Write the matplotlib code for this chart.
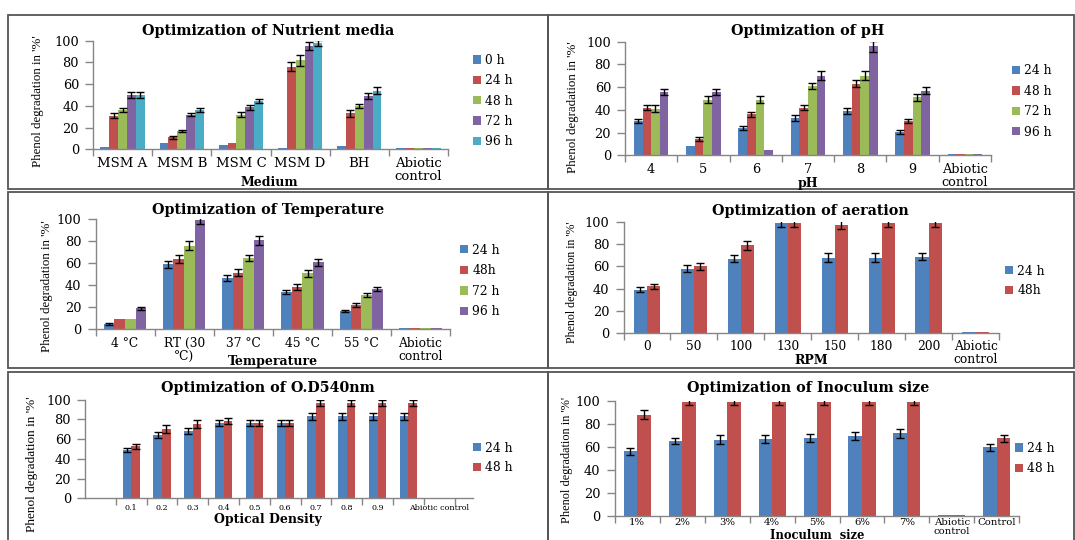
import matplotlib
matplotlib.use("Agg")
import matplotlib.pyplot as plt
from matplotlib.patches import Rectangle
import numpy as np

W, H = 1075, 540
fig = plt.figure(figsize=(W / 100, H / 100), dpi=100)

BLUE, RED, GREEN, PURPLE, CYAN = '#4F81BD', '#C0504D', '#9BBB59', '#8064A2', '#4BACC6'
SERIF = 'DejaVu Serif'
YFONT = 'Liberation Serif'

# ---------------- data ----------------
media_categories = ["MSM A", "MSM B", "MSM C", "MSM D", "BH", "Abiotic\ncontrol"]
media_labels = ["0 h", "24 h", "48 h", "72 h", "96 h"]
media_0h = [2.5, 6, 3.5, 1, 3, 0.8]
media_24h = [31, 11, 6, 76, 33, 0.8]
media_48h = [36, 16.5, 32, 82, 40, 0.8]
media_72h = [50, 32, 38.5, 95, 49, 0.8]
media_96h = [50, 36, 44.5, 98, 54, 0.8]
media_err_0h = [0, 0, 0, 0, 0, 0]
media_err_24h = [2.5, 1.5, 0, 4, 3, 0]
media_err_48h = [2, 1, 2, 5, 2, 0]
media_err_72h = [3, 1.5, 2, 4, 3, 0]
media_err_96h = [3, 2, 2, 3, 3, 0]

ph_categories = ["4", "5", "6", "7", "8", "9", "Abiotic\ncontrol"]
ph_labels = ["24 h", "48 h", "72 h", "96 h"]
ph_24h = [30, 8, 24, 33, 39, 20.5, 0.8]
ph_48h = [42, 14.5, 36, 42, 63, 30, 0.8]
ph_72h = [41, 49, 49, 61, 70, 51, 0.8]
ph_96h = [56, 56, 5, 70, 96, 57, 0.8]
ph_err_24h = [2, 0, 2, 2.5, 2.5, 1.5, 0]
ph_err_48h = [2, 1.5, 2, 2, 3, 2, 0]
ph_err_72h = [3, 3, 3, 3, 4, 3, 0]
ph_err_96h = [2.5, 2.5, 0, 4, 5, 3, 0]

temp_categories = ["4 \u00b0C", "RT (30\n\u00b0C)", "37 \u00b0C", "45 \u00b0C", "55 \u00b0C", "Abiotic\ncontrol"]
temp_labels = ["24 h", "48h", "72 h", "96 h"]
temp_24h = [5, 59, 46.5, 34, 16.5, 0.8]
temp_48h = [9, 64, 51.5, 38.5, 22, 0.8]
temp_72h = [9, 76, 65, 51, 31, 0.8]
temp_96h = [19, 99, 81, 61, 36.5, 0.8]
temp_err_24h = [1, 3, 3, 2, 1, 0]
temp_err_48h = [0, 4, 3, 2.5, 2, 0]
temp_err_72h = [0, 4, 3, 3, 2, 0]
temp_err_96h = [1, 3, 4, 3, 2, 0]

rpm_categories = ["0", "50", "100", "130", "150", "180", "200", "Abiotic\ncontrol"]
rpm_labels = ["24 h", "48h"]
rpm_24h = [39, 58, 67, 99, 68, 68, 69, 0.8]
rpm_48h = [42, 60, 79, 99, 98, 99, 99, 0.8]
rpm_err_24h = [2, 3, 3, 3, 4, 4, 3, 0]
rpm_err_48h = [2, 3.5, 4, 3, 4, 3, 3, 0]

od_categories = ["0.1", "0.2", "0.3", "0.4", "0.5", "0.6", "0.7", "0.8", "0.9", "", "Abiotic control"]
od_labels = ["24 h", "48 h"]
od_24h = [49, 64, 68.5, 76, 76, 76, 83, 83, 83, 83, 0.8]
od_48h = [53, 70, 75, 78, 76, 76, 97, 97, 97, 97, 0.8]
od_err_24h = [2.5, 3, 3, 3, 3, 3, 3.5, 3.5, 3.5, 3.5, 0]
od_err_48h = [2.5, 4, 4, 3, 3, 3, 3, 3, 3, 3, 0]

inoc_categories = ["1%", "2%", "3%", "4%", "5%", "6%", "7%", "Abiotic\ncontrol", "Control"]
inoc_labels = ["24 h", "48 h"]
inoc_24h = [56, 65, 66, 66.5, 67.5, 69, 71.5, 0.8, 59.5]
inoc_48h = [88, 99, 99, 99, 99, 99, 99, 0.8, 67.5]
inoc_err_24h = [3, 3, 4, 3.5, 3.5, 3.5, 3.5, 0, 3]
inoc_err_48h = [4, 3, 3, 3, 3, 3, 3, 0, 3]

YLABEL = "Phenol degradation in '%'"


# ---------------- helpers ----------------
def fx(x):
    return x / W


def fy(y):
    return 1 - y / H


def px_axes(left, right, top, bottom):
    return fig.add_axes([fx(left), fy(bottom), fx(right - left), (bottom - top) / H])


def panel(ax, cats, series, errs, colors, labels, bw, tick_fs=8.5, xpad=5.5, extra_left=0.0, extra_right=0.0):
    x = np.arange(len(cats))
    n = len(series)
    handles = []
    for i, (vals, err, col, lab) in enumerate(zip(series, errs, colors, labels)):
        off = (i - (n - 1) / 2) * bw
        vals = np.asarray(vals, float)
        err = np.asarray(err, float)
        h = ax.bar(x + off, vals, bw, color=col, edgecolor='none', label=lab, zorder=2)
        handles.append(h)
        m = err > 0
        ax.errorbar(x[m] + off, vals[m], yerr=err[m], fmt='none', ecolor='black',
                    elinewidth=1.0, capsize=3, capthick=1.0, zorder=3)
    ax.set_ylim(0, 100)
    ax.set_xlim(-0.5 - extra_left, len(cats) - 0.5 + extra_right)
    ax.set_yticks([0, 20, 40, 60, 80, 100])
    ax.set_yticklabels(['0', '20', '40', '60', '80', '100'], family=SERIF, fontsize=9.3)
    ax.set_xticks(x)
    ax.set_xticklabels(cats, family=SERIF, fontsize=tick_fs, linespacing=1.0)
    ax.set_xticks(np.arange(-0.5, len(cats)), minor=True)
    ax.tick_params(axis='x', which='major', length=0, pad=xpad)
    ax.tick_params(axis='x', which='minor', length=5, width=1, color='#868686', direction='out')
    ax.tick_params(axis='y', which='major', length=6, width=1, color='#868686', pad=4, direction='out')
    for s in ['top', 'right']:
        ax.spines[s].set_visible(False)
    for s in ['left', 'bottom']:
        ax.spines[s].set_color('#868686')
        ax.spines[s].set_linewidth(1.0)
    ax.set_facecolor('none')
    return handles


def legend(ax, handles, labels, x, y, spacing=0.55):
    ax.legend(handles, labels, loc='center left', bbox_to_anchor=(fx(x), fy(y)),
              bbox_transform=fig.transFigure, frameon=False, handlelength=0.65,
              handleheight=0.65, handletextpad=0.35, labelspacing=spacing,
              borderpad=0, borderaxespad=0, prop={'family': SERIF, 'size': 8.8})


def title(text, x, y):
    fig.text(fx(x), fy(y), text, ha='center', va='center', family=SERIF,
             fontweight='bold', fontsize=10.3)


def xlabel(text, x, y, size=9, va='center'):
    fig.text(fx(x), fy(y), text, ha='center', va=va, family=SERIF,
             fontweight='bold', fontsize=size)


def ylabel(x, y, size=9.3):
    fig.text(fx(x), fy(y), YLABEL, ha='center', va='center', rotation=90,
             family=YFONT, fontsize=size)


# ---------------- borders ----------------
for (l, t, r, b) in [(8, 15, 548, 189), (548, 15, 1074, 189),
                     (8, 192, 548, 368), (548, 192, 1074, 368),
                     (8, 372, 548, 560), (548, 372, 1074, 560)]:
    fig.add_artist(Rectangle((fx(l), fy(b)), fx(r - l), (b - t) / H,
                             transform=fig.transFigure, fill=False,
                             edgecolor='#555555', linewidth=1.3))

# ---------------- panel 1: media ----------------
ax1 = px_axes(93, 448, 40.7, 149.3)
h1 = panel(ax1, media_categories,
           [media_0h, media_24h, media_48h, media_72h, media_96h],
           [media_err_0h, media_err_24h, media_err_48h, media_err_72h, media_err_96h],
           [BLUE, RED, GREEN, PURPLE, CYAN], media_labels, 0.15, tick_fs=9.5)
legend(ax1, h1, media_labels, 473, 101, spacing=0.6)
title("Optimization of Nutrient media", 268, 31)
xlabel("Medium", 269, 182)
ylabel(38, 101)

# ---------------- panel 2: pH ----------------
ax2 = px_axes(625, 991, 41.7, 155.3)
h2 = panel(ax2, ph_categories, [ph_24h, ph_48h, ph_72h, ph_96h],
           [ph_err_24h, ph_err_48h, ph_err_72h, ph_err_96h],
           [BLUE, RED, GREEN, PURPLE], ph_labels, 0.165, tick_fs=9.3)
legend(ax2, h2, ph_labels, 1012, 101.5, spacing=0.6)
title("Optimization of pH", 808, 31)
xlabel("pH", 808, 183)
ylabel(573, 107)

# ---------------- panel 3: temperature ----------------
ax3 = px_axes(95.5, 450, 219.3, 329.3)
h3 = panel(ax3, temp_categories, [temp_24h, temp_48h, temp_72h, temp_96h],
           [temp_err_24h, temp_err_48h, temp_err_72h, temp_err_96h],
           [BLUE, RED, GREEN, PURPLE], temp_labels, 0.18, tick_fs=8.8)
legend(ax3, h3, temp_labels, 460, 281, spacing=0.62)
title("Optimization of Temperature", 268, 210)
xlabel("Temperature", 273, 362)
ylabel(47, 286)

# ---------------- panel 4: aeration ----------------
ax4 = px_axes(623.5, 999, 222.3, 332.7)
h4 = panel(ax4, rpm_categories, [rpm_24h, rpm_48h], [rpm_err_24h, rpm_err_48h],
           [BLUE, RED], rpm_labels, 0.28, tick_fs=8.8)
legend(ax4, h4, rpm_labels, 1005, 281, spacing=0.55)
title("Optimization of aeration", 810, 211)
xlabel("RPM", 811, 361)
ylabel(572, 282, size=8.6)

# ---------------- panel 5: optical density ----------------
ax5 = px_axes(85, 473, 399.7, 498.3)
h5 = panel(ax5, od_categories, [od_24h, od_48h], [od_err_24h, od_err_48h],
           [BLUE, RED], od_labels, 0.28, tick_fs=5.8, xpad=4, extra_left=1.0, extra_right=0.6)
legend(ax5, h5, od_labels, 473, 458, spacing=0.55)
title("Optimization of O.D540nm", 268, 388)
xlabel("Optical Density", 268, 520)
ylabel(32, 464, size=9.5)

# ---------------- panel 6: inoculum size ----------------
ax6 = px_axes(614.5, 1019.5, 400.7, 515.7)
h6 = panel(ax6, inoc_categories, [inoc_24h, inoc_48h], [inoc_err_24h, inoc_err_48h],
           [BLUE, RED], inoc_labels, 0.3, tick_fs=7.3, xpad=1.5)
legend(ax6, h6, inoc_labels, 1015, 458.5, spacing=0.6)
title("Optimization of Inoculum size", 808, 388)
xlabel("Inoculum  size", 817, 539, size=8.3, va='baseline')
ylabel(567, 460, size=8.8)

fig.savefig("out.png", dpi=100)
